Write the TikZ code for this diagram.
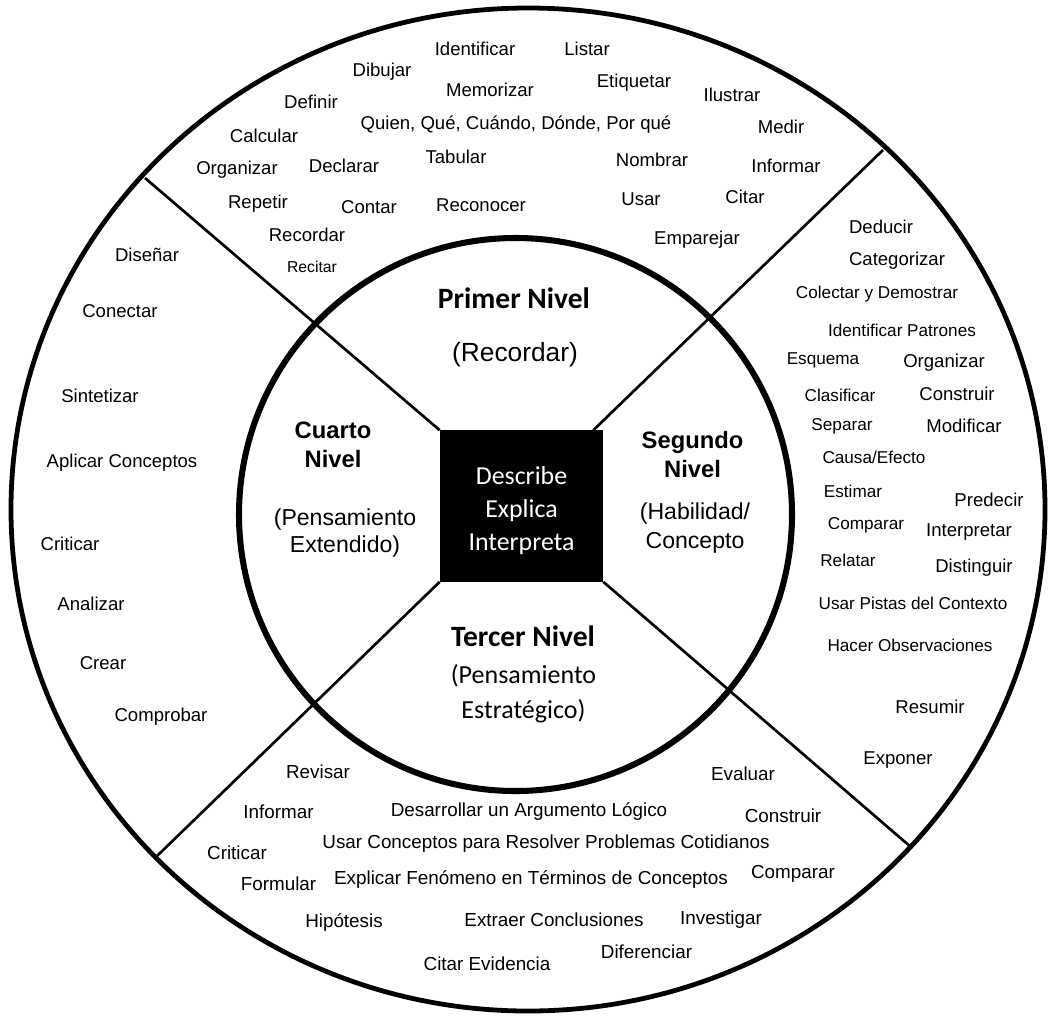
\documentclass[tikz,border=0pt]{standalone}
\usepackage{fontspec}
\setmainfont{Liberation Sans}
\newfontfamily\calibri{Carlito}
\usetikzlibrary{calc}

\tikzset{
  word/.style={anchor=mid,inner sep=0pt,font=\fontsize{13.2}{15}\selectfont},
  smallword/.style={word,font=\fontsize{12.2}{14}\selectfont},
  tinyword/.style={word,font=\fontsize{11.2}{13}\selectfont},
  lowword/.style={word,font=\fontsize{13.4}{15}\selectfont},
  spoke/.style={line width=1.9pt},
  core/.style={fill=black,inner sep=0pt,minimum width=4.075cm,minimum height=3.775cm},
  coretext/.style={align=center,inner sep=0pt,text=white,font=\calibri\fontsize{18.4}{23.5}\selectfont},
  title/.style={anchor=mid,inner sep=0pt,font=\calibri\bfseries\fontsize{21}{25}\selectfont},
  levelbold/.style={align=center,inner sep=0pt,font=\bfseries\fontsize{16.9}{20.6}\selectfont},
  levelsub/.style={align=center,inner sep=0pt,font=\fontsize{16.4}{20.6}\selectfont}
}

\begin{document}
\begin{tikzpicture}[x=0.025cm,y=-0.025cm]
  \useasboundingbox (0,0) rectangle (1050,1015);
  % outer ring
  \draw[line width=3.4pt] (528,509.5) ellipse [x radius=517,y radius=501.5];
  % centre box and the four dividers
  \node[core] (core) at (521.5,506) {};
  \draw[spoke] (core.north west) -- (145,178);
  \draw[spoke] ($(core.north east)+(-10,0)$) -- (883,150);
  \draw[spoke] (core.south east) -- (912,848);
  \draw[spoke] (core.south west) -- (157,856);
  % inner ring
  \draw[line width=4.3pt] (515.5,514.5) circle [radius=276.5];
  \node[coretext] (coretxt) at (521.5,510.8) {Describe\\Explica\\Interpreta};

  % levels
  \node[title] (primer) at (514,304.6) {Primer Nivel};
  \node[word,font=\fontsize{18.7}{22}\selectfont] (recordar) at (515,358) {(Recordar)};
  \node[levelbold] (cuarto) at (333,444.5) {Cuarto\\Nivel};
  \node[levelsub,font=\fontsize{16.4}{19.2}\selectfont] (extendido) at (345,533) {(Pensamiento\\Extendido)};
  \node[levelbold] (segundo) at (692.5,454.5) {Segundo\\Nivel};
  \node[levelsub] (habilidad) at (695,528) {(Habilidad/\\Concepto};
  \node[title] (tercer) at (523,642.6) {Tercer Nivel};
  \node[align=center,inner sep=0pt,font=\calibri\fontsize{18.5}{24.9}\selectfont] (estrategico) at (523.5,693.5) {(Pensamiento\\Estratégico)};

  % first level (top)
  \foreach \x/\y/\w [count=\i] in {475/52/Identificar, 587/52/Listar, 382/73/Dibujar,
      490/93/Memorizar, 634/84/Etiquetar, 732/98/Ilustrar, 311/105/Definir,
      516/126/{Quien, Qué, Cuándo, Dónde, Por qué}, 781/130/Medir, 264/139/Calcular,
      456/160/Tabular, 652/163/Nombrar, 786/169/Informar, 237/171/Organizar,
      344/169/Declarar, 258/205/Repetir, 369/210/Contar, 481/208/Reconocer,
      641/202/Usar, 745/200/Citar, 307/238/Recordar, 697/241/Emparejar}
    \node[word] (top\i) at (\x,\y) {\w};
  \node[tinyword] (recitar) at (312,269) {Recitar};

  % second level (right)
  \foreach \x/\y/\w [count=\i] in {881/230/Deducir, 897/262/Categorizar, 944/364/Organizar,
      957/397/Construir, 964/429/Modificar, 989/503/Predecir, 969/533/Interpretar,
      974/569/Distinguir, 930/710/Resumir, 898/760.5/Exponer}
    \node[word] (right\i) at (\x,\y) {\w};
  \foreach \x/\y/\w [count=\i] in {877/295/Colectar y Demostrar, 902/333/Identificar Patrones,
      823/361/Esquema, 840/398/Clasificar, 842/427/Separar, 874/460/{Causa/Efecto},
      853/494/Estimar, 866/526/Comparar, 848/563/Relatar,
      913/606/Usar Pistas del Contexto, 910/648/Hacer Observaciones}
    \node[smallword] (rightb\i) at (\x,\y) {\w};

  % fourth level (left)
  \foreach \x/\y/\w [count=\i] in {147/258/Diseñar, 120/314/Conectar, 100/399/Sintetizar,
      122/464/Aplicar Conceptos, 70/547/Criticar, 91/607/Analizar, 103/666/Crear,
      161/718/Comprobar}
    \node[word] (left\i) at (\x,\y) {\w};

  % third level (bottom)
  \foreach \x/\y/\w [count=\i] in {318/775/Revisar, 743/777/Evaluar, 278.5/815/Informar,
      529/813/Desarrollar un Argumento Lógico, 783/819/Construir, 237/856/Criticar,
      546/845/Usar Conceptos para Resolver Problemas Cotidianos, 278.5/887/Formular,
      531/881/Explicar Fenómeno en Términos de Conceptos, 793/875/Comparar,
      344/924/Hipótesis, 554/922.5/Extraer Conclusiones, 721/921/Investigar,
      646.5/954.5/Diferenciar, 487/967/Citar Evidencia}
    \node[lowword] (low\i) at (\x,\y) {\w};
\end{tikzpicture}
\end{document}
